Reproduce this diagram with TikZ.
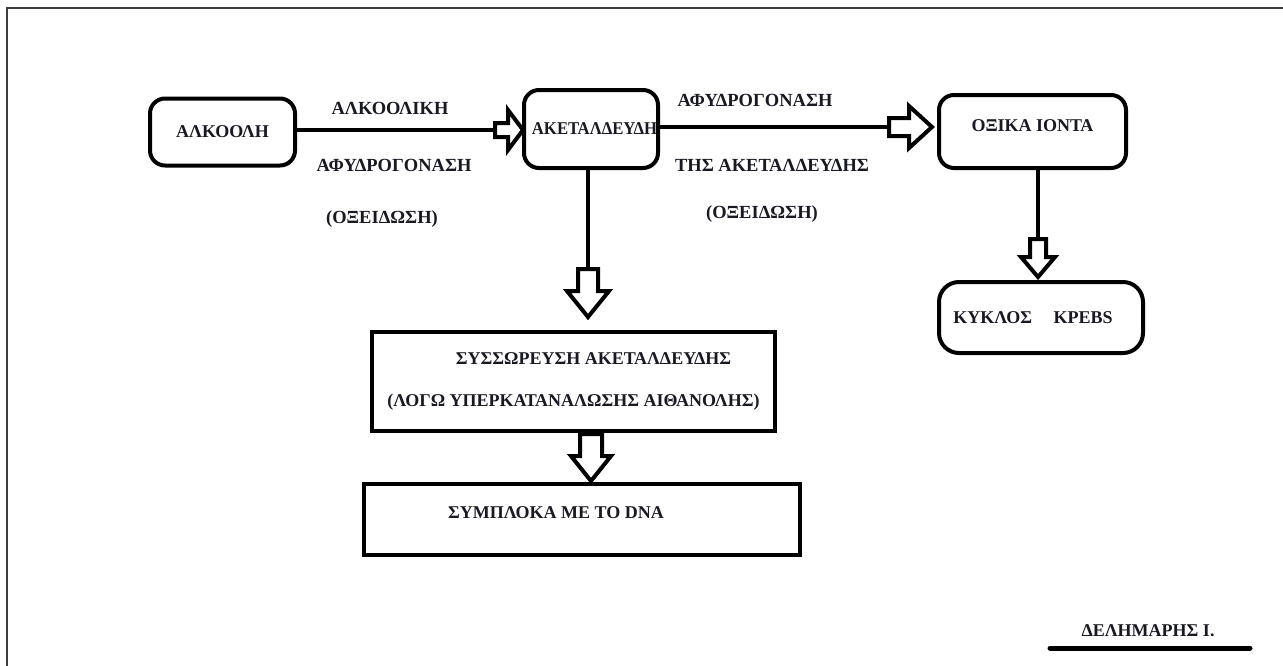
\documentclass[tikz,border=0pt]{standalone}
\usepackage{fontspec}
\setmainfont{Liberation Serif}
\usetikzlibrary{calc}
\definecolor{ink}{RGB}{25,25,35}
\definecolor{framec}{RGB}{60,60,60}
% hollow block arrow: tip, rotation, shaft length, head length, shaft half width, head half width
\newcommand\harrow[6]{%
  \draw[harrowst,shift={(#1)},rotate=#2] (0,0) -- ({-#4},{#6}) -- ({-#4},{#5}) -- ({-(#4+#3)},{#5})
    -- ({-(#4+#3)},{-#5}) -- ({-#4},{-#5}) -- ({-#4},{-#6}) -- cycle;}
\begin{document}
\begin{tikzpicture}[x=1pt,y=-1pt,
  rbox/.style={draw=black,line width=4pt,rounded corners=15pt,inner sep=0pt,
    font=\bfseries\fontsize{18}{22}\selectfont,text=ink},
  sbox/.style={draw=black,line width=4pt,inner sep=0pt,
    font=\bfseries\fontsize{18}{42}\selectfont,text=ink,align=center},
  lbl/.style={inner sep=0pt,font=\bfseries\fontsize{18.5}{22}\selectfont,text=ink,
    text height=12pt,text depth=0pt},
  conn/.style={draw=black,line width=4pt},
  harrowst/.style={draw=black,fill=white,line width=4pt,line join=miter},
  framest/.style={draw=framec,line width=2pt}]
\useasboundingbox (0,0) rectangle (1283,665);
% frame
\coordinate (fbl) at (7,666);
\coordinate (ftl) at (7,8);
\coordinate (ftr) at (1284,8);
\draw[framest] (fbl) -- (ftl) -- (ftr);
% boxes
\node[rbox,minimum width=145,minimum height=67] (alk) at (222.5,132) {ΑΛΚΟΟΛΗ};
\node[rbox,minimum width=134,minimum height=78] (ake) at (591,129) {\hspace*{7pt}\scalebox{0.93}[1]{ΑΚΕΤΑΛΔΕΥΔΗ}};
\node[rbox,minimum width=187,minimum height=73] (oxi) at (1032.5,131.5) {ΟΞΙΚΑ ΙΟΝΤΑ\rule[-12pt]{0pt}{0pt}};
\node[rbox,minimum width=204,minimum height=71,rounded corners=20pt] (kre) at (1041,317.5) {\hspace*{-16pt}ΚΥΚΛΟΣ\hspace{1.2em}ΚΡΕΒS};
\node[sbox,minimum width=403,minimum height=99] (sys) at (573.5,381.5)
  {\hspace*{40pt}ΣΥΣΣΩΡΕΥΣΗ ΑΚΕΤΑΛΔΕΥΔΗΣ\\(ΛΟΓΩ ΥΠΕΡΚΑΤΑΝΑΛΩΣΗΣ ΑΙΘΑΝΟΛΗΣ)};
\node[sbox,minimum width=436,minimum height=71] (dna) at (582,519.5)
  {\hspace*{-52pt}ΣΥΜΠΛΟΚΑ ΜΕ ΤΟ DNA\rule[-14pt]{0pt}{0pt}};
% labels
\node[lbl] (l1) at (390,108) {ΑΛΚΟΟΛΙΚΗ};
\node[lbl] (l2) at (394,165) {ΑΦΥΔΡΟΓΟΝΑΣΗ};
\node[lbl] (l3) at (382,217) {(ΟΞΕΙΔΩΣΗ)};
\node[lbl] (l4) at (755,100) {ΑΦΥΔΡΟΓΟΝΑΣΗ};
\node[lbl] (l5) at (772,165) {ΤΗΣ ΑΚΕΤΑΛΔΕΥΔΗΣ};
\node[lbl] (l6) at (762,212) {(ΟΞΕΙΔΩΣΗ)};
\node[lbl,font=\bfseries\fontsize{18}{20}\selectfont] (sig) at (1148,630) {ΔΕΛΗΜΑΡΗΣ Ι.};
\coordinate (u1) at (1050,648);
\coordinate (u2) at (1250,648);
\draw[line width=5pt,line cap=round] (u1) -- (u2);
% connectors
\coordinate (t1) at ($(ake.west |- alk.east)+(1,-2)$);
\draw[conn] (alk.east |- t1) -- ($(t1)+(-28,0)$);
\harrow{t1}{0}{13}{15}{7}{20}
\coordinate (t2) at ($(oxi.west |- 0,127)+(-5,0)$);
\draw[conn] (ake.east |- t2) -- ($(t2)+(-43,0)$);
\harrow{t2}{0}{20}{23}{9}{21}
\coordinate (t3) at ($(sys.north -| ake.south)+(-3,-13)$);
\draw[conn] ($(ake.south)+(-3,0)$) -- ($(t3)+(0,-48)$);
\harrow{t3}{-90}{22}{26}{10}{21}
\coordinate (t4) at ($(kre.north -| 1038,0)+(0,-3)$);
\draw[conn] (oxi.south -| t4) -- ($(t4)+(0,-38)$);
\harrow{t4}{-90}{18}{20}{8}{17}
\coordinate (t5) at ($(dna.north -| 591,0)+(0,-1)$);
\harrow{t5}{-90}{22}{25}{11}{20}
\end{tikzpicture}
\end{document}
